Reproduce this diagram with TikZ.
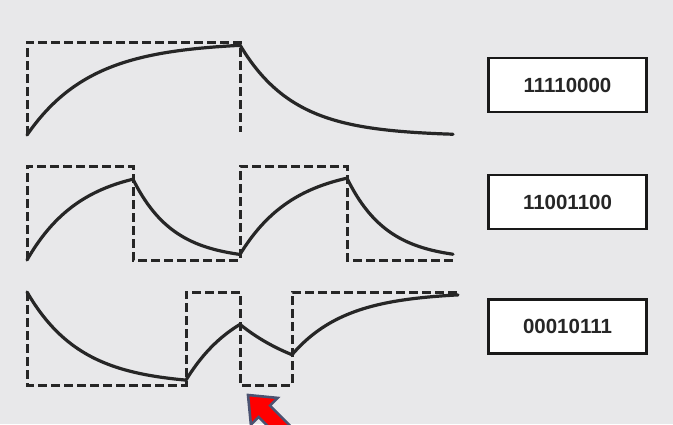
\documentclass[tikz,border=0pt]{standalone}
\usepackage{fontspec}
\setsansfont{Liberation Sans}
\usetikzlibrary{positioning}
\definecolor{panel}{HTML}{E8E8EA}
\definecolor{pointerred}{HTML}{FF0000}
\definecolor{pointeredge}{HTML}{4B5372}

\begin{document}
\begin{tikzpicture}[
		x=1pt, y=-1pt,
		font=\sffamily\bfseries,
		samples=80,
		pulse/.style={line width=3pt, black!85, dash pattern=on 9pt off 4pt},
		wave/.style={line width=3.2pt, black!85, line join=round, line cap=round},
		codebox/.style={draw=black!90, line width=2.6pt, fill=white, minimum width=158pt, minimum height=54pt,
			font=\fontsize{20.5}{24}\sffamily\bfseries, text=black!85},
		pointer/.style={fill=pointerred, draw=pointeredge, line width=2.6pt, line join=miter}
		]
		
		% background panel
		\fill[panel, use as bounding box] (0,0) rectangle (673,424);
		\clip (0,0) rectangle (673,424);
		
		% 1. First row: 11110000
		\draw[pulse] (27,135) -- (27,42) -- (240,42) -- (240,132);
		\draw[wave] plot[domain=27:240] (\x,{42+93*exp(-(\x-27)/64)})
		-- plot[domain=240:453] (\x,{136-91*exp(-(\x-240)/54)});
		
		% 2. Second row: 11001100
		\draw[pulse] (27,260) -- (27,166) -- (133,166) -- (133,260) -- (240,260)
		-- (240,166) -- (347,166) -- (347,260) -- (453,260);
		\draw[wave] plot[domain=27:133] (\x,{166+94*exp(-(\x-27)/54)})
		-- plot[domain=133:240] (\x,{260-80.8*exp(-(\x-133)/40)})
		-- plot[domain=240:347] (\x,{166+88.4*exp(-(\x-240)/54)})
		-- plot[domain=347:453] (\x,{260-81.8*exp(-(\x-347)/40)});
		
		% 3. Third row: 00010111
		\draw[pulse] (27,292) -- (27,385) -- (186,385) -- (186,292) -- (240,292)
		-- (240,385) -- (292,385) -- (292,292) -- (458,292);
		\draw[wave] plot[domain=27:186] (\x,{385-93*exp(-(\x-27)/54)})
		-- plot[domain=186:240] (\x,{292+88.1*exp(-(\x-186)/54)})
		-- plot[domain=240:292] (\x,{385-60.6*exp(-(\x-240)/75)})
		-- plot[domain=292:458] (\x,{292+62.7*exp(-(\x-292)/54)});
		
		% Code words
		\node[codebox] (code1) at (567.5,85) {11110000};
		\node[codebox, below=60.5pt of code1] (code2) {11001100};
		\node[codebox, below=67.5pt of code2] (code3) {00010111};
		
		% Pointer at the short pulse
		\draw[pointer] (248,395) -- (277.7,397.9) -- (270,405.6) -- (298.3,433.9)
		-- (286.8,445.2) -- (258.6,417) -- (250.9,424.7) -- cycle;
		
	\end{tikzpicture}
\end{document}
